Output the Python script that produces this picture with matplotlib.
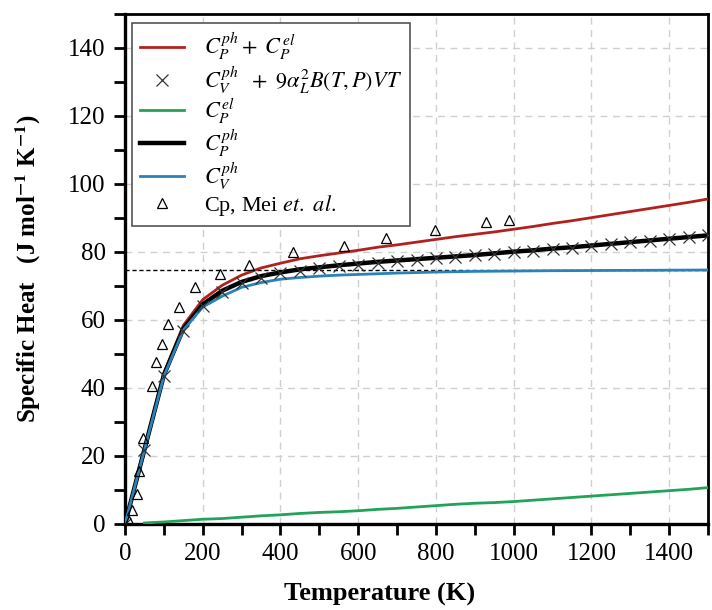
import matplotlib
matplotlib.use("Agg")
import matplotlib.pyplot as plt
from matplotlib.ticker import MultipleLocator

plt.rcParams["mathtext.fontset"] = "stix"
plt.rcParams["font.family"] = ["Liberation Serif", "DejaVu Serif"]

# Temperature grid of the computed curves (K)
T = [0, 50, 100, 150, 200, 250, 300, 350, 400, 450, 500, 550, 600, 650, 700, 750,
     800, 850, 900, 950, 1000, 1050, 1100, 1150, 1200, 1250, 1300, 1350, 1400, 1450, 1500]

# Cp^ph + Cp^el
cp_total = [0, 22.2, 44.4, 58.4, 66.0, 70.2, 73.2, 75.3, 76.7, 78.0, 78.9, 79.7, 80.5, 81.4,
            82.1, 82.9, 83.7, 84.5, 85.2, 85.9, 86.7, 87.5, 88.4, 89.2, 90.1, 91.0, 91.9,
            92.8, 93.7, 94.6, 95.6]

# Cv^ph + 9 alpha^2 B V T
cv_corr = [0, 21.7, 43.4, 56.8, 64.2, 68.2, 70.8, 72.5, 73.7, 74.5, 75.2, 75.8, 76.3, 76.8,
           77.3, 77.7, 78.2, 78.6, 79.0, 79.5, 80.0, 80.4, 80.9, 81.3, 81.8, 82.3, 82.8,
           83.3, 83.8, 84.3, 84.9]

# Electronic contribution (from 50 K)
T_el = T[1:]
cp_el = [0.3, 0.6, 1.0, 1.4, 1.6, 2.0, 2.4, 2.7, 3.1, 3.4, 3.6, 3.9, 4.3, 4.6, 5.0, 5.4,
         5.8, 6.1, 6.3, 6.6, 7.0, 7.4, 7.8, 8.2, 8.6, 9.0, 9.4, 9.8, 10.2, 10.7]

# Phonon Cp
cp_ph = [0, 21.9, 43.8, 57.4, 64.6, 68.6, 71.2, 72.9, 74.0, 74.9, 75.5, 76.1, 76.6, 77.1,
         77.5, 77.9, 78.3, 78.7, 79.1, 79.6, 80.1, 80.5, 81.0, 81.4, 81.9, 82.4, 82.9,
         83.4, 83.9, 84.4, 84.9]

# Phonon Cv
cv_ph = [0, 21.8, 43.5, 57.0, 63.8, 67.0, 69.6, 71.0, 72.0, 72.5, 72.9, 73.2, 73.4, 73.6,
         73.8, 73.95, 74.1, 74.2, 74.3, 74.35, 74.4, 74.45, 74.5, 74.52, 74.55, 74.58,
         74.6, 74.62, 74.65, 74.68, 74.7]

# Experimental Cp (Mei et al.)
T_exp = [11, 19, 32, 35, 47, 69, 80, 96, 111, 139, 181, 244, 318, 433, 564, 672, 798, 929, 988]
cp_exp = [1.0, 4.1, 8.8, 15.7, 25.3, 40.6, 47.7, 52.9, 58.7, 63.9, 69.8, 73.5, 76.2, 79.9,
          81.9, 84.2, 86.6, 88.8, 89.3]

# Dulong-Petit limit
dulong_petit = 74.8

fig = plt.figure(figsize=(7.12, 6.10), dpi=100)
ax = fig.add_axes([125 / 712, 1 - 524 / 610, (708 - 125) / 712, (524 - 14) / 610])

ax.axhline(dulong_petit, color="black", lw=1.0, ls=(0, (3, 2)), zorder=2)

ax.plot(T, cp_total, color="#b3211f", lw=2.0, label=r"$C_P^{ph}+\ C_P^{el}$", zorder=3)
ax.plot(T, cv_corr, ls="none", marker="x", ms=8, mew=0.9, color="#333333",
        label=r"$C_V^{ph}\ \ +\ 9\alpha_L^2B(T,P)VT$", zorder=5)
ax.plot(T_el, cp_el, color="#22a35a", lw=2.0, label=r"$C_P^{el}$", zorder=3)
ax.plot(T, cp_ph, color="black", lw=3.2, label=r"$C_P^{ph}$", zorder=4)
ax.plot(T, cv_ph, color="#2b82b8", lw=2.0, label=r"$C_V^{ph}$", zorder=4)
ax.plot(T_exp, cp_exp, ls="none", marker="^", ms=7, mfc="none", mec="black", mew=0.9,
        label=r"Cp, Mei $\mathit{et.}$ $\mathit{al.}$", zorder=6)

ax.set_xlim(0, 1500)
ax.set_ylim(0, 150)
ax.xaxis.set_major_locator(MultipleLocator(200))
ax.xaxis.set_minor_locator(MultipleLocator(100))
ax.yaxis.set_major_locator(MultipleLocator(20))
ax.yaxis.set_minor_locator(MultipleLocator(10))
ax.set_yticks([0, 20, 40, 60, 80, 100, 120, 140])

ax.grid(True, which="major", color="#d0d0d0", ls=(0, (5, 4)), lw=1.0, zorder=0)
ax.set_axisbelow(True)

ax.tick_params(axis="both", which="both", direction="out", length=8, width=2.0,
               labelsize=18, top=False, right=False, pad=6)
for side in ["left", "bottom"]:
    ax.spines[side].set_linewidth(2.4)
for side in ["top", "right"]:
    ax.spines[side].set_linewidth(2.0)

ax.set_xlabel("Temperature (K)", fontsize=19, fontweight="bold")
ax.xaxis.set_label_coords(0.437, -0.115)
ax.set_ylabel(r"Specific Heat   (J mol$^{\mathbf{-1}}$ K$^{\mathbf{-1}}$)",
              fontsize=18, fontweight="bold")
ax.yaxis.set_label_coords(-0.14, 0.5)

leg = ax.legend(loc="upper left", bbox_to_anchor=(0.012, 0.983), borderaxespad=0,
                fontsize=16, frameon=True, fancybox=False, edgecolor="#555555",
                framealpha=1, handlelength=2.0, labelspacing=0.05, borderpad=0.35,
                handletextpad=0.9)
leg.get_frame().set_linewidth(1.2)

fig.savefig("out.png", dpi=100)
